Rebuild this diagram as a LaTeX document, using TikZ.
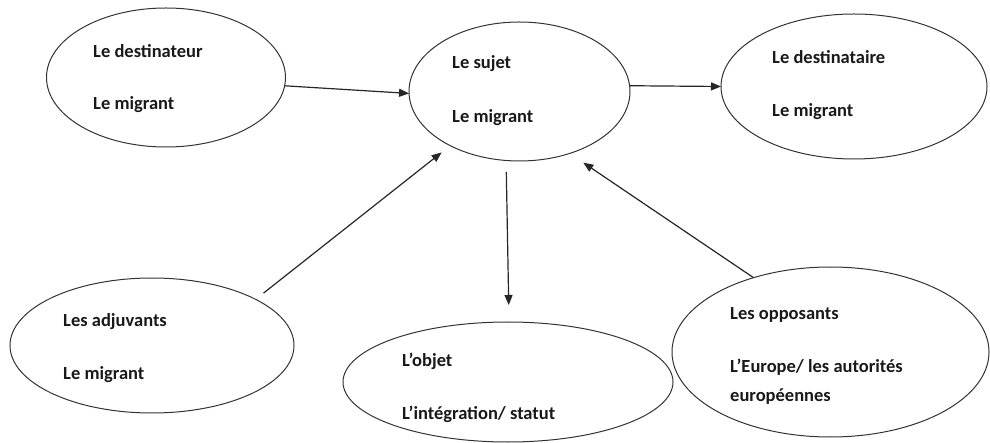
\documentclass[tikz,border=0pt]{standalone}
\usepackage{fontspec}
\setmainfont{Carlito}
\usetikzlibrary{shapes.geometric,arrows.meta}
\tikzset{
  ell/.style={draw=black!80, line width=1pt, ellipse, inner sep=0pt, outer sep=0pt},
  txt/.style={anchor=base west, inner sep=0pt, font=\fontsize{18.5}{22}\selectfont\bfseries, text=black!90},
  arr/.style={draw=black!85, line width=1.2pt, -{Triangle[length=10pt,width=8pt]}}
}
\begin{document}
\begin{tikzpicture}[x=1pt,y=-1pt]
\useasboundingbox (0,0) rectangle (990,443);
% ellipses
\node[ell, minimum width=239pt, minimum height=139pt] (dest) at (166,77.5) {};
\node[ell, minimum width=221pt, minimum height=139pt] (sujet) at (519.5,91.5) {};
\node[ell, minimum width=266pt, minimum height=145pt] (dire) at (854,86.5) {};
\node[ell, minimum width=284pt, minimum height=135pt] (adj) at (152,345.5) {};
\node[ell, minimum width=330pt, minimum height=120pt] (obj) at (508,382) {};
\node[ell, minimum width=317pt, minimum height=170pt] (opp) at (830.5,352) {};
% texts
\node[txt] (t1a) at (93,58) {Le destinateur};
\node[txt] (t1b) at (93,110) {Le migrant};
\node[txt] (t2a) at (452,69) {Le sujet};
\node[txt] (t2b) at (452,122.5) {Le migrant};
\node[txt] (t3a) at (772,64) {Le destinataire};
\node[txt] (t3b) at (772,116.5) {Le migrant};
\node[txt] (t4a) at (63,326.5) {Les adjuvants};
\node[txt] (t4b) at (63,379) {Le migrant};
\node[txt] (t5a) at (402,366.5) {L’objet};
\node[txt] (t5b) at (402,419) {L’intégration/ statut};
\node[txt] (t6a) at (730,320) {Les opposants};
\node[txt] (t6b) at (730,372.5) {L’Europe/ les autorités};
\node[txt] (t6c) at (730,401.5) {européennes};
% connectors
\draw[arr] (dest.-4) -- (sujet.181);
\draw[arr] (sujet.3) -- (dire.180);
\draw[arr, shorten <=10pt, shorten >=11pt] (adj.24.5) -- (sujet.218.9);
\draw[arr, shorten <=11.5pt, shorten >=17pt] (sujet.259.7) -- (obj.89);
\draw[arr, shorten >=16.5pt] (opp.136.8) -- (sujet.-51.9);
\end{tikzpicture}
\end{document}
